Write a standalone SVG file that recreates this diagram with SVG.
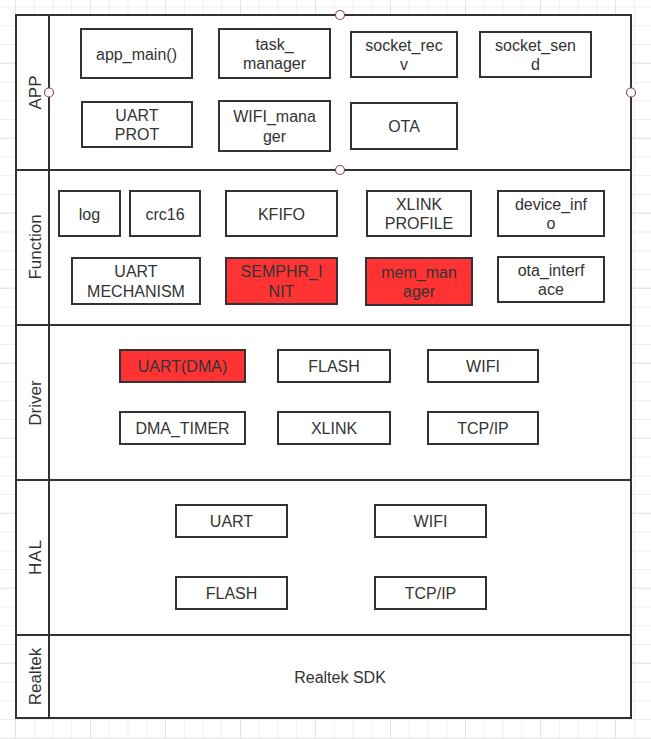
<svg xmlns="http://www.w3.org/2000/svg" width="651" height="739" viewBox="0 0 651 739">
<defs>
<pattern id="minor" patternUnits="userSpaceOnUse" x="15" y="6.5" width="18.75" height="18.75">
<path d="M0 0.5H18.75M0.5 0V18.75" fill="none" stroke="#efefef" stroke-width="1"/>
</pattern>
<pattern id="major" patternUnits="userSpaceOnUse" x="15" y="62.7" width="75" height="75">
<path d="M0 0.5H75M0.5 0V75" fill="none" stroke="#e3e3e3" stroke-width="1"/>
</pattern>
<style>
.lane{fill:#ffffff;stroke:#333333;stroke-width:2}
.hdr{fill:none;stroke:#333333;stroke-width:2}
.box{fill:#ffffff;stroke:#333333;stroke-width:2}
.red{fill:#ff3333;stroke:#333333;stroke-width:2}
.t{font-family:"Liberation Sans",Arial,sans-serif;font-size:16px;fill:#333333;text-anchor:middle}
.lbl{font-family:"Liberation Sans",Arial,sans-serif;font-size:17px;fill:#333333;text-anchor:middle}
.pt{fill:#ffffff;stroke:#8b4a4a;stroke-width:1.2}
</style>
</defs>
<rect x="0" y="0" width="651" height="739" fill="#ffffff"/>
<rect x="0" y="0" width="651" height="739" fill="url(#minor)"/>
<rect x="0" y="0" width="651" height="739" fill="url(#major)"/>

<g id="lane-app">
<rect class="lane" x="16" y="15" width="615" height="155"/>
<line class="hdr" x1="49" y1="15" x2="49" y2="170"/>
<text class="lbl" x="41" y="92.5" transform="rotate(-90 41 92.5)">APP</text>
</g>
<g id="lane-function">
<rect class="lane" x="16" y="170" width="615" height="155"/>
<line class="hdr" x1="49" y1="170" x2="49" y2="325"/>
<text class="lbl" x="41" y="247" transform="rotate(-90 41 247)">Function</text>
</g>
<g id="lane-driver">
<rect class="lane" x="16" y="325" width="615" height="155"/>
<line class="hdr" x1="49" y1="325" x2="49" y2="480"/>
<text class="lbl" x="41" y="403" transform="rotate(-90 41 403)">Driver</text>
</g>
<g id="lane-hal">
<rect class="lane" x="16" y="480" width="615" height="155"/>
<line class="hdr" x1="49" y1="480" x2="49" y2="635"/>
<text class="lbl" x="41" y="557" transform="rotate(-90 41 557)" letter-spacing="1">HAL</text>
</g>
<g id="lane-realtek">
<rect class="lane" x="16" y="635" width="615" height="83"/>
<line class="hdr" x1="49" y1="635" x2="49" y2="718"/>
<text class="lbl" x="41" y="676.5" transform="rotate(-90 41 676.5)">Realtek</text>
<text class="t" x="340" y="682.5">Realtek SDK</text>
</g>

<!-- APP nodes -->
<g id="app_main"><rect class="box" x="81" y="29" width="111" height="49"/><text class="t" x="136.5" y="59.5">app_main()</text></g>
<g id="task_manager"><rect class="box" x="219" y="29" width="111" height="49"/><text class="t" x="274.5"><tspan x="274.5" y="49.5">task_</tspan><tspan x="274.5" y="69">manager</tspan></text></g>
<g id="socket_recv"><rect class="box" x="351" y="32" width="106" height="45"/><text class="t" x="404"><tspan x="404" y="50.5">socket_rec</tspan><tspan x="404" y="70">v</tspan></text></g>
<g id="socket_send"><rect class="box" x="480" y="32" width="111" height="45"/><text class="t" x="535.5"><tspan x="535.5" y="50.5">socket_sen</tspan><tspan x="535.5" y="70">d</tspan></text></g>
<g id="uart_prot"><rect class="box" x="82" y="102" width="110" height="45"/><text class="t" x="137"><tspan x="137" y="120.5">UART</tspan><tspan x="137" y="140">PROT</tspan></text></g>
<g id="wifi_manager"><rect class="box" x="219" y="101" width="111" height="50"/><text class="t" x="274.5"><tspan x="274.5" y="122">WIFI_mana</tspan><tspan x="274.5" y="141.5">ger</tspan></text></g>
<g id="ota"><rect class="box" x="351" y="103" width="106" height="46"/><text class="t" x="404" y="132">OTA</text></g>

<!-- Function nodes -->
<g id="log"><rect class="box" x="59" y="191" width="61" height="45"/><text class="t" x="89.5" y="219.5">log</text></g>
<g id="crc16"><rect class="box" x="130" y="191" width="70" height="45"/><text class="t" x="165" y="219.5">crc16</text></g>
<g id="kfifo"><rect class="box" x="226" y="191" width="111" height="45"/><text class="t" x="281.5" y="219.5">KFIFO</text></g>
<g id="xlink_profile"><rect class="box" x="367" y="191" width="104" height="45"/><text class="t" x="419"><tspan x="419" y="209.5">XLINK</tspan><tspan x="419" y="229">PROFILE</tspan></text></g>
<g id="device_info"><rect class="box" x="498" y="191" width="106" height="45"/><text class="t" x="551"><tspan x="551" y="209.5">device_inf</tspan><tspan x="551" y="229">o</tspan></text></g>
<g id="uart_mechanism"><rect class="box" x="72" y="258" width="128" height="46"/><text class="t" x="136"><tspan x="136" y="277">UART</tspan><tspan x="136" y="296.5">MECHANISM</tspan></text></g>
<g id="semphr_init"><rect class="red" x="226" y="258" width="111" height="46"/><text class="t" x="281.5"><tspan x="281.5" y="277">SEMPHR_I</tspan><tspan x="281.5" y="296.5">NIT</tspan></text></g>
<g id="mem_manager"><rect class="red" x="366" y="258" width="106" height="47"/><text class="t" x="419"><tspan x="419" y="277.5">mem_man</tspan><tspan x="419" y="297">ager</tspan></text></g>
<g id="ota_interface"><rect class="box" x="498" y="257" width="106" height="45"/><text class="t" x="551"><tspan x="551" y="275.5">ota_interf</tspan><tspan x="551" y="295">ace</tspan></text></g>

<!-- Driver nodes -->
<g id="drv_uart_dma"><rect class="red" x="120" y="350" width="125" height="32"/><text class="t" x="182.5" y="371.5">UART(DMA)</text></g>
<g id="drv_flash"><rect class="box" x="278" y="350" width="112" height="32"/><text class="t" x="334" y="371.5">FLASH</text></g>
<g id="drv_wifi"><rect class="box" x="428" y="350" width="110" height="32"/><text class="t" x="483" y="371.5">WIFI</text></g>
<g id="drv_dma_timer"><rect class="box" x="120" y="412" width="125" height="32"/><text class="t" x="182.5" y="433.5">DMA_TIMER</text></g>
<g id="drv_xlink"><rect class="box" x="278" y="412" width="112" height="32"/><text class="t" x="334" y="433.5">XLINK</text></g>
<g id="drv_tcpip"><rect class="box" x="428" y="412" width="110" height="32"/><text class="t" x="483" y="433.5">TCP/IP</text></g>

<!-- HAL nodes -->
<g id="hal_uart"><rect class="box" x="176" y="505" width="111" height="32"/><text class="t" x="231.5" y="527">UART</text></g>
<g id="hal_wifi"><rect class="box" x="375" y="505" width="111" height="32"/><text class="t" x="430.5" y="527">WIFI</text></g>
<g id="hal_flash"><rect class="box" x="176" y="577" width="111" height="32"/><text class="t" x="231.5" y="599">FLASH</text></g>
<g id="hal_tcpip"><rect class="box" x="375" y="577" width="111" height="32"/><text class="t" x="430.5" y="599">TCP/IP</text></g>

<g id="connectors">
<circle class="pt" cx="340" cy="15" r="4.5"/>
<circle class="pt" cx="49" cy="92.5" r="4.5"/>
<circle class="pt" cx="631" cy="92.5" r="4.5"/>
<circle class="pt" cx="340" cy="170" r="4.5"/>
</g>
</svg>
